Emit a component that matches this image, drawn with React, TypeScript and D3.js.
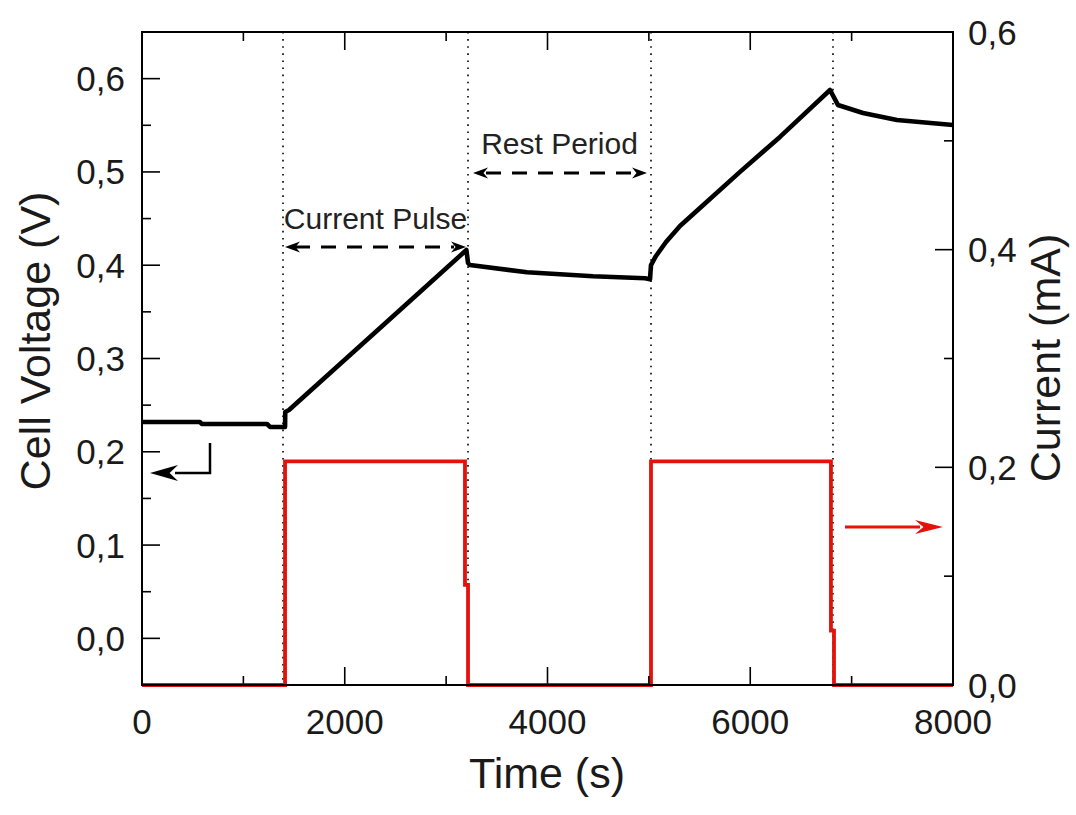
import React from 'react';
import * as d3 from 'd3';

// ---- data ----
const timeTicks = [0, 2000, 4000, 6000, 8000];
const timeMinorTicks = [1000, 3000, 5000, 7000];
const voltageTicks = [0, 0.1, 0.2, 0.3, 0.4, 0.5, 0.6];
const voltageMinorTicks = [0.05, 0.15, 0.25, 0.35, 0.45, 0.55];
const currentTicks = [0, 0.2, 0.4, 0.6];
const currentMinorTicks = [0.1, 0.3, 0.5];
const eventTimes = [1391, 3216, 5021, 6816];

const voltageTime = [0, 572, 590, 1233, 1263, 1411, 1413, 1450, 2348, 3200, 3216, 3235, 3798, 4449, 4962, 5011, 5021, 5070, 5169, 5307, 5504, 5899, 6293, 6787, 6865, 7112, 7447, 8000];
const voltageValues = [0.2319, 0.2319, 0.2298, 0.2298, 0.2266, 0.2266, 0.2427, 0.2448, 0.3327, 0.4163, 0.4024, 0.4002, 0.3924, 0.3881, 0.386, 0.3849, 0.4002, 0.4099, 0.4249, 0.442, 0.4613, 0.5001, 0.5375, 0.5878, 0.5718, 0.5632, 0.5557, 0.5503];

const currentTime = [0, 1411, 1411, 3186, 3186, 3216, 3216, 5021, 5021, 6796, 6796, 6826, 6826, 8000];
const currentValues = [0, 0, 0.2055, 0.2055, 0.092, 0.092, 0, 0, 0.2055, 0.2055, 0.05, 0.05, 0, 0];

const fmt = (v: number) => v.toFixed(1).replace('.', ',');

const W = 1076, H = 815;
const L = 142, R = 953, T = 32, B = 685;

function arrowHead(tipX: number, tipY: number, dir: number, len: number, half: number) {
  const bx = tipX - dir * len;
  const nx = tipX - dir * len * 0.7;
  return `M${tipX},${tipY} L${bx},${tipY - half} L${nx},${tipY} L${bx},${tipY + half} Z`;
}

export default function App() {
  const x = d3.scaleLinear().domain([0, 8000]).range([L, R]);
  const yV = d3.scaleLinear().domain([-0.05, 0.65]).range([B, T]);
  const yI = d3.scaleLinear().domain([0, 0.6]).range([B, T]);

  const vData = voltageTime.map((t, i) => [t, voltageValues[i]] as [number, number]);
  const iData = currentTime.map((t, i) => [t, currentValues[i]] as [number, number]);
  const vLine = d3.line<[number, number]>().x(d => x(d[0])).y(d => yV(d[1]));
  const iLine = d3.line<[number, number]>().x(d => x(d[0])).y(d => yI(d[1]));

  const font = "'Liberation Sans', Arial, sans-serif";
  const major = 18, minor = 9;
  const textCol = '#1a1a1a';

  const pulseY = 247, restY = 173;

  return (
    <svg width={W} height={H} style={{ position: 'absolute', left: 0, top: 0, background: '#fff' }} fontFamily={font}>
      {eventTimes.map((t, i) => (
        <line key={'ev' + i} x1={x(t)} x2={x(t)} y1={T} y2={B} stroke="#000" strokeWidth={1.6} strokeDasharray="1.6,5.5" />
      ))}

      <path d={iLine(iData) || ''} fill="none" stroke="#e3120b" strokeWidth={3.8} strokeLinejoin="miter" />
      <path d={vLine(vData) || ''} fill="none" stroke="#000" strokeWidth={4.6} strokeLinejoin="round" />

      <rect x={L} y={T} width={R - L} height={B - T} fill="none" stroke="#000" strokeWidth={2} />

      {timeTicks.map(t => (
        <g key={'xt' + t}>
          <line x1={x(t)} x2={x(t)} y1={B} y2={B - major} stroke="#000" strokeWidth={1.6} />
          <line x1={x(t)} x2={x(t)} y1={T} y2={T + major} stroke="#000" strokeWidth={1.6} />
          <text x={x(t)} y={721} textAnchor="middle" dominantBaseline="central" fontSize={35} fill={textCol}>{t}</text>
        </g>
      ))}
      {timeMinorTicks.map(t => (
        <g key={'xm' + t}>
          <line x1={x(t)} x2={x(t)} y1={B} y2={B - minor} stroke="#000" strokeWidth={1.6} />
          <line x1={x(t)} x2={x(t)} y1={T} y2={T + minor} stroke="#000" strokeWidth={1.6} />
        </g>
      ))}

      {voltageTicks.map(v => (
        <g key={'yl' + v}>
          <line x1={L} x2={L + major} y1={yV(v)} y2={yV(v)} stroke="#000" strokeWidth={1.6} />
          <text x={125} y={yV(v)} textAnchor="end" dominantBaseline="central" fontSize={35} fill={textCol}>{fmt(v)}</text>
        </g>
      ))}
      {voltageMinorTicks.map(v => (
        <line key={'ylm' + v} x1={L} x2={L + minor} y1={yV(v)} y2={yV(v)} stroke="#000" strokeWidth={1.6} />
      ))}

      {currentTicks.map(v => (
        <g key={'yr' + v}>
          <line x1={R} x2={R - major} y1={yI(v)} y2={yI(v)} stroke="#000" strokeWidth={1.6} />
          <text x={968} y={yI(v)} textAnchor="start" dominantBaseline="central" fontSize={35} fill={textCol}>{fmt(v)}</text>
        </g>
      ))}
      {currentMinorTicks.map(v => (
        <line key={'yrm' + v} x1={R} x2={R - minor} y1={yI(v)} y2={yI(v)} stroke="#000" strokeWidth={1.6} />
      ))}

      <text x={547} y={788} textAnchor="middle" fontSize={43} fill={textCol}>Time (s)</text>
      <text transform={`translate(50,${341}) rotate(-90)`} textAnchor="middle" fontSize={43} fill={textCol}>Cell Voltage (V)</text>
      <text transform={`translate(1060,${358}) rotate(-90)`} textAnchor="middle" fontSize={43} fill={textCol}>Current (mA)</text>

      <text x={(x(eventTimes[0]) + x(eventTimes[1])) / 2} y={229} textAnchor="middle" fontSize={30} fill="#222">Current Pulse</text>
      <line x1={x(eventTimes[0]) + 12} x2={x(eventTimes[1]) - 14} y1={pulseY} y2={pulseY} stroke="#000" strokeWidth={3} strokeDasharray="15,11" />
      <path d={arrowHead(x(eventTimes[0]) + 2, pulseY, -1, 15, 5.5)} fill="#000" />
      <path d={arrowHead(x(eventTimes[1]) - 2, pulseY, 1, 15, 5.5)} fill="#000" />

      <text x={(x(eventTimes[1]) + x(eventTimes[2])) / 2} y={154} textAnchor="middle" fontSize={30} fill="#222">Rest Period</text>
      <line x1={x(eventTimes[1]) + 18} x2={x(eventTimes[2]) - 18} y1={restY} y2={restY} stroke="#000" strokeWidth={3} strokeDasharray="15,11" />
      <path d={arrowHead(x(eventTimes[1]) + 5, restY, -1, 15, 5.5)} fill="#000" />
      <path d={arrowHead(x(eventTimes[2]) - 4, restY, 1, 15, 5.5)} fill="#000" />

      <polyline points={`210,443 210,473 175,473`} fill="none" stroke="#000" strokeWidth={2.5} />
      <path d={arrowHead(150, 473, -1, 28, 8)} fill="#000" />

      <line x1={845} x2={920} y1={527} y2={527} stroke="#e3120b" strokeWidth={3} />
      <path d={arrowHead(943, 527, 1, 28, 7)} fill="#e3120b" />
    </svg>
  );
}
